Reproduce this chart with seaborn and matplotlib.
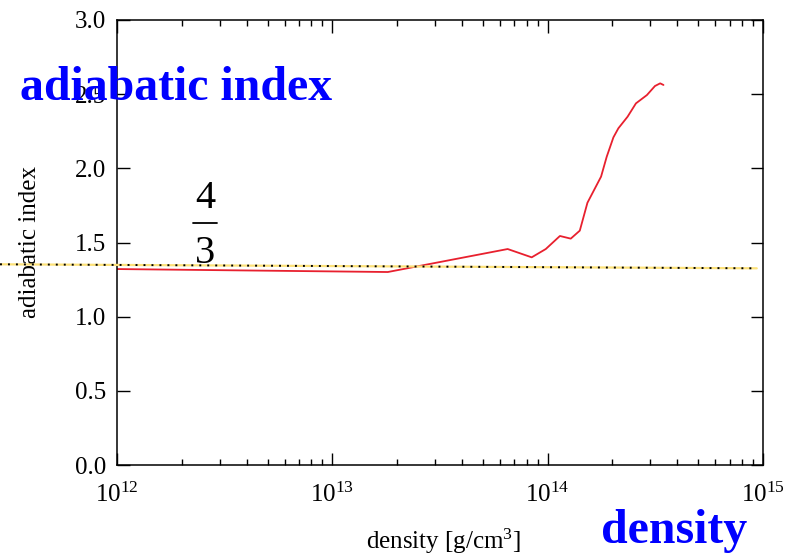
import matplotlib
matplotlib.use("Agg")
import matplotlib.pyplot as plt
import seaborn as sns
import numpy as np
import pandas as pd
from matplotlib.lines import Line2D

# ---- data ----
density = [1.0e12, 1.81e13, 6.52e13, 8.43e13, 9.8e13, 1.14e14, 1.28e14, 1.41e14,
           1.53e14, 1.77e14, 1.88e14, 2.02e14, 2.13e14, 2.35e14, 2.57e14,
           2.89e14, 3.15e14, 3.33e14, 3.45e14]
gamma = [1.321, 1.301, 1.456, 1.400, 1.456, 1.544, 1.526, 1.580,
         1.768, 1.944, 2.078, 2.209, 2.270, 2.348, 2.438,
         2.494, 2.555, 2.573, 2.562]
ref_x = [10**11.4567, 10**14.971]
ref_y = [1.353, 1.326]
xticks = [1e12, 1e13, 1e14, 1e15]
yticks = [0.0, 0.5, 1.0, 1.5, 2.0, 2.5, 3.0]

sns.set_style("ticks")
plt.rcParams['font.family'] = ['Liberation Serif', 'DejaVu Serif']
plt.rcParams['mathtext.fontset'] = 'custom'
plt.rcParams['mathtext.rm'] = 'Liberation Serif'
plt.rcParams['mathtext.it'] = 'Liberation Serif:italic'
plt.rcParams['mathtext.bf'] = 'Liberation Serif:bold'
plt.rcParams['text.color'] = 'black'
plt.rcParams['axes.labelcolor'] = 'black'
plt.rcParams['xtick.color'] = 'black'
plt.rcParams['ytick.color'] = 'black'

fig = plt.figure(figsize=(7.98, 5.55), dpi=100)
ax = fig.add_axes([117/798, 90/555, (763-117)/798, (465-20)/555])

df = pd.DataFrame({"density": density, "gamma": gamma})
sns.lineplot(data=df, x="density", y="gamma", ax=ax, color="#e8202e",
             linewidth=1.3, sort=False, estimator=None)

# reference line 4/3 (yellow underlay + black dots)
ax.plot(ref_x, ref_y, color="#fde27a", linewidth=1.6, clip_on=False, zorder=3)
ax.plot(ref_x, ref_y, color="black", linewidth=1.4, linestyle=(0, (1, 3.1)),
        clip_on=False, zorder=4)

ax.set_xscale("log")
ax.set_xlim(1e12, 1e15)
ax.set_ylim(0, 3.0)
ax.set_xticks(xticks)
ax.set_yticks(yticks)
ax.set_yticklabels([f"{v:.1f}" for v in yticks])

for s in ax.spines.values():
    s.set_visible(True)
    s.set_linewidth(1.1)
    s.set_color("black")
ax.tick_params(which="both", direction="in", top=True, right=True,
               color="black", width=1.0, labelcolor="black")
ax.tick_params(which="major", length=9)
ax.tick_params(which="minor", length=4)
ax.tick_params(axis="y", labelsize=18, pad=8)
ax.tick_params(axis="x", labelsize=18, pad=13)
ax.tick_params(axis="y", which="minor", left=False, right=False)

ax.set_xlabel("density [g/cm$^3$]", fontsize=18)
ax.set_ylabel("adiabatic index", fontsize=18)
ax.xaxis.set_label_coords(0.506, -0.138)
ax.yaxis.set_label_coords(-0.118, 0.502)

# fraction 4/3
fig.text(205/798, (555-208)/555, "4", fontsize=29, ha="center", va="baseline")
fig.text(205/798, (555-263)/555, "3", fontsize=29, ha="center", va="baseline")
fig.add_artist(Line2D([193/798, 217/798], [(555-222.5)/555]*2, color="black",
                      linewidth=1.3))

# big blue overlay labels
fig.text(20/798, (555-100)/555, "adiabatic index", fontsize=34.5, fontweight="bold",
         color="#0000ff", ha="left", va="baseline")
fig.text(601/798, (555-543)/555, "density", fontsize=34.5, fontweight="bold",
         color="#0000ff", ha="left", va="baseline")

fig.savefig("out.png", dpi=100)
